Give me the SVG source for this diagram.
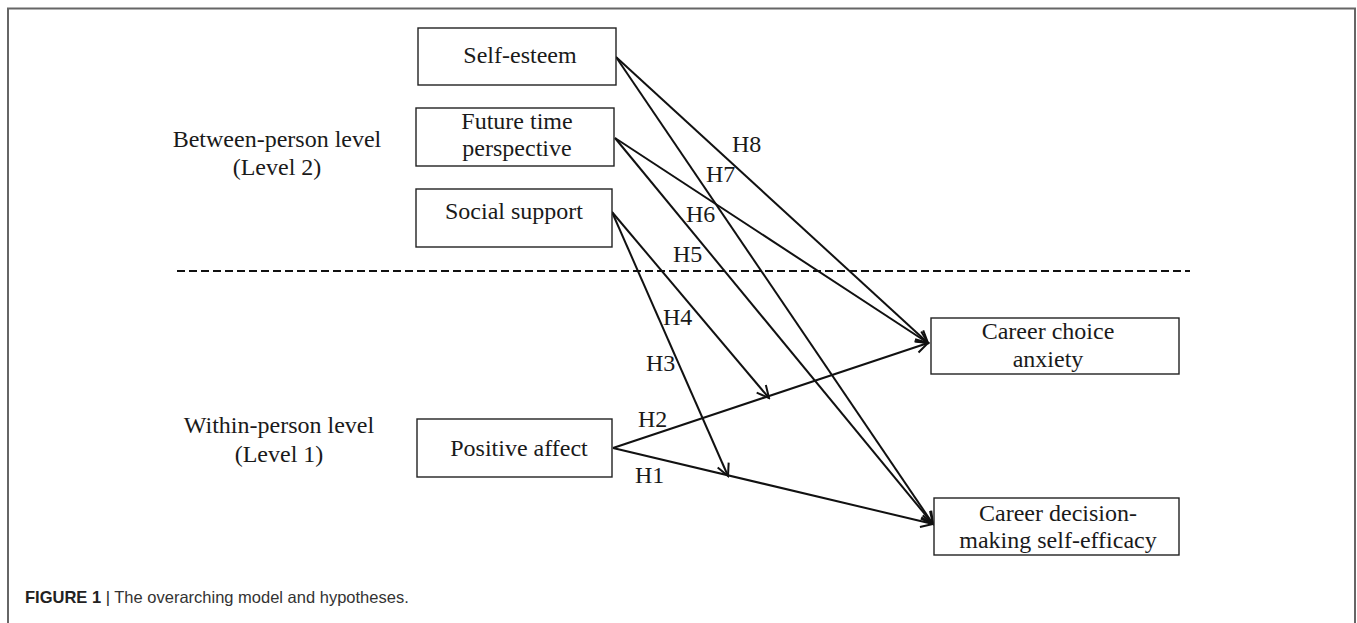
<svg xmlns="http://www.w3.org/2000/svg" width="1357" height="623" viewBox="0 0 1357 623">
<style>
.box{fill:#fff;stroke:#222;stroke-width:1.4}
.t{font-family:"Liberation Serif","Times New Roman",serif;font-size:24px;fill:#1a1a1a;text-anchor:middle}
.lab{font-family:"Liberation Serif","Times New Roman",serif;font-size:24px;fill:#1a1a1a}
.c{stroke:#111;stroke-width:2;fill:none;marker-end:url(#ah)}
.cap{font-family:"Liberation Sans",Arial,sans-serif;font-size:16.5px;fill:#333}
</style>
<defs>
<marker id="ah" markerUnits="userSpaceOnUse" markerWidth="16" markerHeight="16" viewBox="0 0 16 16" refX="14" refY="8" orient="auto">
<path d="M2,2 L14,8 L2,14" fill="none" stroke="#111" stroke-width="2"/>
</marker>
</defs>
<rect width="1357" height="623" fill="#fff"/>
<path d="M8,623 L8,8.5 L1355,8.5 L1355,623" fill="none" stroke="#666" stroke-width="2"/>
<g id="level-labels">
<text class="t" x="277" y="147">Between-person level</text>
<text class="t" x="277" y="175">(Level 2)</text>
<text class="t" x="279" y="433">Within-person level</text>
<text class="t" x="279" y="462">(Level 1)</text>
</g>
<line x1="177" y1="271" x2="1190" y2="271" stroke="#111" stroke-width="2" stroke-dasharray="8 4"/>
<g id="connectors">
<line class="c" x1="616" y1="57" x2="928" y2="343"/>
<line class="c" x1="616" y1="57" x2="933" y2="524"/>
<line class="c" x1="615" y1="138" x2="928" y2="343"/>
<line class="c" x1="615" y1="138" x2="933" y2="524"/>
<line class="c" x1="612" y1="212" x2="769" y2="398"/>
<line class="c" x1="612" y1="212" x2="728" y2="476"/>
<line class="c" x1="613" y1="448" x2="928" y2="343"/>
<line class="c" x1="613" y1="448" x2="933" y2="524"/>
<text class="lab" x="732" y="152">H8</text>
<text class="lab" x="706" y="182">H7</text>
<text class="lab" x="686" y="222">H6</text>
<text class="lab" x="673" y="262">H5</text>
<text class="lab" x="663" y="325">H4</text>
<text class="lab" x="646" y="371">H3</text>
<text class="lab" x="638" y="427">H2</text>
<text class="lab" x="635" y="483">H1</text>
</g>
<g id="self-esteem">
<rect class="box" x="418" y="28" width="198" height="57"/>
<text class="t" x="520" y="63">Self-esteem</text>
</g>
<g id="future-time-perspective">
<rect class="box" x="416" y="108" width="198" height="58"/>
<text class="t" x="517" y="129">Future time</text>
<text class="t" x="517" y="156">perspective</text>
</g>
<g id="social-support">
<rect class="box" x="416" y="189" width="196" height="58"/>
<text class="t" x="514" y="219">Social support</text>
</g>
<g id="positive-affect">
<rect class="box" x="417" y="419" width="195" height="58"/>
<text class="t" x="519" y="456">Positive affect</text>
</g>
<g id="career-choice-anxiety">
<rect class="box" x="931" y="318" width="248" height="56"/>
<text class="t" x="1048" y="339">Career choice</text>
<text class="t" x="1048" y="367">anxiety</text>
</g>
<g id="career-decision-making-self-efficacy">
<rect class="box" x="934" y="498" width="245" height="57"/>
<text class="t" x="1058" y="521">Career decision-</text>
<text class="t" x="1058" y="548">making self-efficacy</text>
</g>
<text class="cap" x="25" y="603"><tspan font-weight="bold" fill="#222">FIGURE 1</tspan> <tspan fill="#222">|</tspan> The overarching model and hypotheses.</text>
</svg>
